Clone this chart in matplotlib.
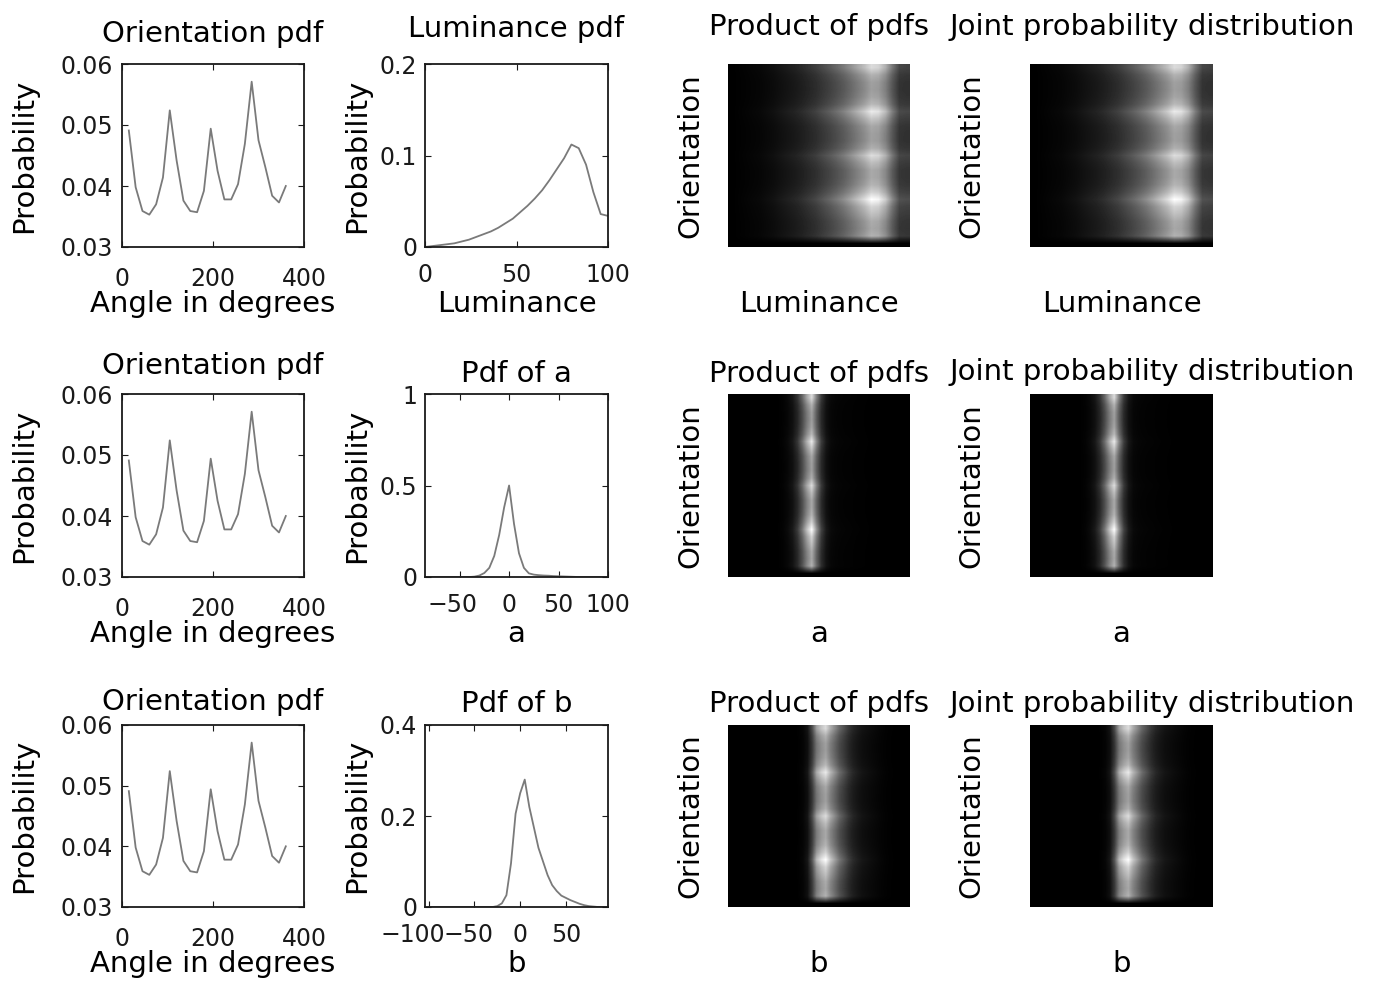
import numpy as np
import matplotlib
matplotlib.use("Agg")
import matplotlib.pyplot as plt
from matplotlib.transforms import ScaledTranslation

plt.rcParams['font.family'] = ['DejaVu Sans']

# ---------------- data ----------------
orient_deg = [15, 30, 45, 60, 75, 90, 105, 120, 135, 150, 165, 180,
              195, 210, 225, 240, 255, 270, 285, 300, 315, 330, 345, 360]
orient_pdf = [0.0491, 0.0398, 0.0359, 0.0353, 0.0370, 0.0414, 0.0524, 0.0442,
              0.0376, 0.0359, 0.0357, 0.0392, 0.0494, 0.0425, 0.0378, 0.0378,
              0.0403, 0.0469, 0.0571, 0.0475, 0.0431, 0.0384, 0.0373, 0.0400]
orient_img_pad = [0.0]   # empty bottom row of the 2-D maps

lum = [0, 4, 8, 12, 16, 20, 24, 28, 32, 36, 40, 44, 48, 52, 56, 60,
       64, 68, 72, 76, 80, 84, 88, 92, 96, 100]
lum_pdf = [0.000, 0.001, 0.002, 0.003, 0.004, 0.006, 0.008, 0.011, 0.014,
           0.017, 0.021, 0.026, 0.031, 0.038, 0.045, 0.053, 0.062, 0.073,
           0.085, 0.097, 0.112, 0.108, 0.090, 0.060, 0.036, 0.034]

a_vals = [-85, -80, -75, -70, -65, -60, -55, -50, -45, -40, -35, -30, -25,
          -20, -15, -10, -5, 0, 5, 10, 15, 20, 25, 30, 35, 40, 45, 50, 55,
          60, 65, 70, 75, 80, 85, 90, 95, 100]
a_pdf = [0, 0, 0, 0, 0, 0, 0, 0, 0, 0, 0.002, 0.008, 0.022,
         0.05, 0.115, 0.23, 0.38, 0.50, 0.29, 0.13, 0.05, 0.02, 0.013, 0.010,
         0.008, 0.007, 0.005, 0.004, 0.003, 0.002, 0.001, 0, 0, 0, 0, 0, 0, 0]

b_vals = [-100, -95, -90, -85, -80, -75, -70, -65, -60, -55, -50, -45, -40,
          -35, -30, -25, -20, -15, -10, -5, 0, 5, 10, 15, 20, 25, 30, 35, 40,
          45, 50, 55, 60, 65, 70, 75, 80, 85, 90, 95]
b_pdf = [0, 0, 0, 0, 0, 0, 0, 0, 0, 0, 0, 0, 0, 0, 0, 0.002, 0.008, 0.026,
         0.096, 0.205, 0.25, 0.28, 0.22, 0.175, 0.13, 0.10, 0.07, 0.048,
         0.035, 0.025, 0.02, 0.015, 0.011, 0.007, 0.004, 0.002, 0.001, 0, 0, 0]

orient_yticks = [0.03, 0.04, 0.05, 0.06]
orient_yticklabels = ['0.03', '0.04', '0.05', '0.06']
orient_xticks = [0, 200, 400]
orient_xticklabels = ['0', '200', '400']

mid_titles = ['Luminance pdf', 'Pdf of a', 'Pdf of b']
mid_xlabels = ['Luminance', 'a', 'b']
mid_xlims = [(0, 100), (-85, 100), (-104, 96)]
mid_ylims = [(0, 0.2), (0, 1), (0, 0.4)]
mid_xticks = [[0, 50, 100], [-50, 0, 50, 100], [-100, -50, 0, 50]]
mid_xticklabels = [['0', '50', '100'], ['\u221250', '0', '50', '100'],
                   ['\u2212100', '\u221250', '0', '50']]
mid_yticks = [[0, 0.1, 0.2], [0, 0.5, 1], [0, 0.2, 0.4]]
mid_yticklabels = [['0', '0.1', '0.2'], ['0', '0.5', '1'], ['0', '0.2', '0.4']]
# horizontal nudges (px) of x tick labels, as typeset in the reference
mid_xtick_nudge = [[0, 0, 0], [-7, 0, 0, 0], [-16, -6, 0, 0]]

img_titles = ['Product of pdfs', 'Joint probability distribution']
img_xlabels = ['Luminance', 'a', 'b']

# ---------------- layout (pixels) ----------------
FW, FH = 1376, 986
fig = plt.figure(figsize=(FW / 100, FH / 100), dpi=100)
fig.patch.set_facecolor('white')

col_left = [122, 425, 728, 1030]
col_w = [182, 183, 182, 183]
row_top = [64, 394, 725]
row_h = [183, 183, 182]

# title baseline gap above axes top (px), per row/col
title_gap = [[22, 27, 29, 29], [20, 12, 12, 14], [15, 13, 13, 13]]
title_x = [0.5, 0.5, 0.5, 0.665]
ylabel_off = [-98, -68, -38, -59]      # centre of y-label, px from axes left
xtick_pad = [20, 16]
ytick_pad = [9, 8]

LAB = 21
TCK = 17
LINE_C = '#7a7a7a'
SPINE_C = '#1a1a1a'


def make_ax(r, c):
    L, W = col_left[c], col_w[c]
    T, H = row_top[r], row_h[r]
    return fig.add_axes([L / FW, 1 - (T + H) / FH, W / FW, H / FH])


def px2pt(p):
    return p * 72 / 100


def dress(ax, r, c, title, xlabel, ylabel):
    H = row_h[r]
    W = col_w[c]
    ax.set_title(title, fontsize=LAB, pad=px2pt(title_gap[r][c]), x=title_x[c])
    ax.set_xlabel(xlabel, fontsize=LAB, va='baseline')
    ax.xaxis.set_label_coords(0.5, -65 / H)
    ax.set_ylabel(ylabel, fontsize=LAB, va='center')
    ax.yaxis.set_label_coords(ylabel_off[c] / W, 0.5)


def line_style(ax, c):
    ax.tick_params(direction='in', top=True, right=True, length=4, width=0.8,
                   labelsize=TCK, colors=SPINE_C)
    ax.tick_params(axis='x', pad=px2pt(xtick_pad[c]))
    ax.tick_params(axis='y', pad=px2pt(ytick_pad[c]))
    for s in ax.spines.values():
        s.set_linewidth(1.3)
        s.set_color(SPINE_C)


mid_x = [lum, a_vals, b_vals]
mid_y = [lum_pdf, a_pdf, b_pdf]
orient_rows = np.array(orient_pdf + orient_img_pad)

for r in range(3):
    # column 1: orientation pdf
    ax = make_ax(r, 0)
    ax.plot(orient_deg, orient_pdf, color=LINE_C, lw=1.3)
    ax.set_xlim(0, 400)
    ax.set_ylim(0.03, 0.06)
    ax.set_xticks(orient_xticks, orient_xticklabels)
    ax.set_yticks(orient_yticks, orient_yticklabels)
    line_style(ax, 0)
    dress(ax, r, 0, 'Orientation pdf', 'Angle in degrees', 'Probability')

    # column 2: luminance / a / b pdf
    ax = make_ax(r, 1)
    ax.plot(mid_x[r], mid_y[r], color=LINE_C, lw=1.3)
    ax.set_xlim(*mid_xlims[r])
    ax.set_ylim(*mid_ylims[r])
    ax.set_xticks(mid_xticks[r], mid_xticklabels[r])
    ax.set_yticks(mid_yticks[r], mid_yticklabels[r])
    line_style(ax, 1)
    for lab, dxp in zip(ax.get_xticklabels(), mid_xtick_nudge[r]):
        if dxp:
            lab.set_transform(lab.get_transform() +
                              ScaledTranslation(dxp / 100, 0, fig.dpi_scale_trans))
    dress(ax, r, 1, mid_titles[r], mid_xlabels[r], 'Probability')

    # columns 3-4: product of pdfs / joint distribution
    xs = np.array(mid_x[r], dtype=float)
    dx = xs[1] - xs[0]
    img = np.outer(orient_rows, np.array(mid_y[r]))
    for k in range(2):
        c = 2 + k
        ax = make_ax(r, c)
        ax.imshow(img, cmap='gray', aspect='auto', interpolation='bilinear',
                  extent=(xs[0] - dx / 2, xs[-1] + dx / 2, 0, len(orient_rows)),
                  vmin=0, vmax=img.max())
        ax.set_xticks([])
        ax.set_yticks([])
        for s in ax.spines.values():
            s.set_visible(False)
        dress(ax, r, c, img_titles[k], img_xlabels[r], 'Orientation')

fig.savefig('out.png', dpi=100, facecolor='white')
